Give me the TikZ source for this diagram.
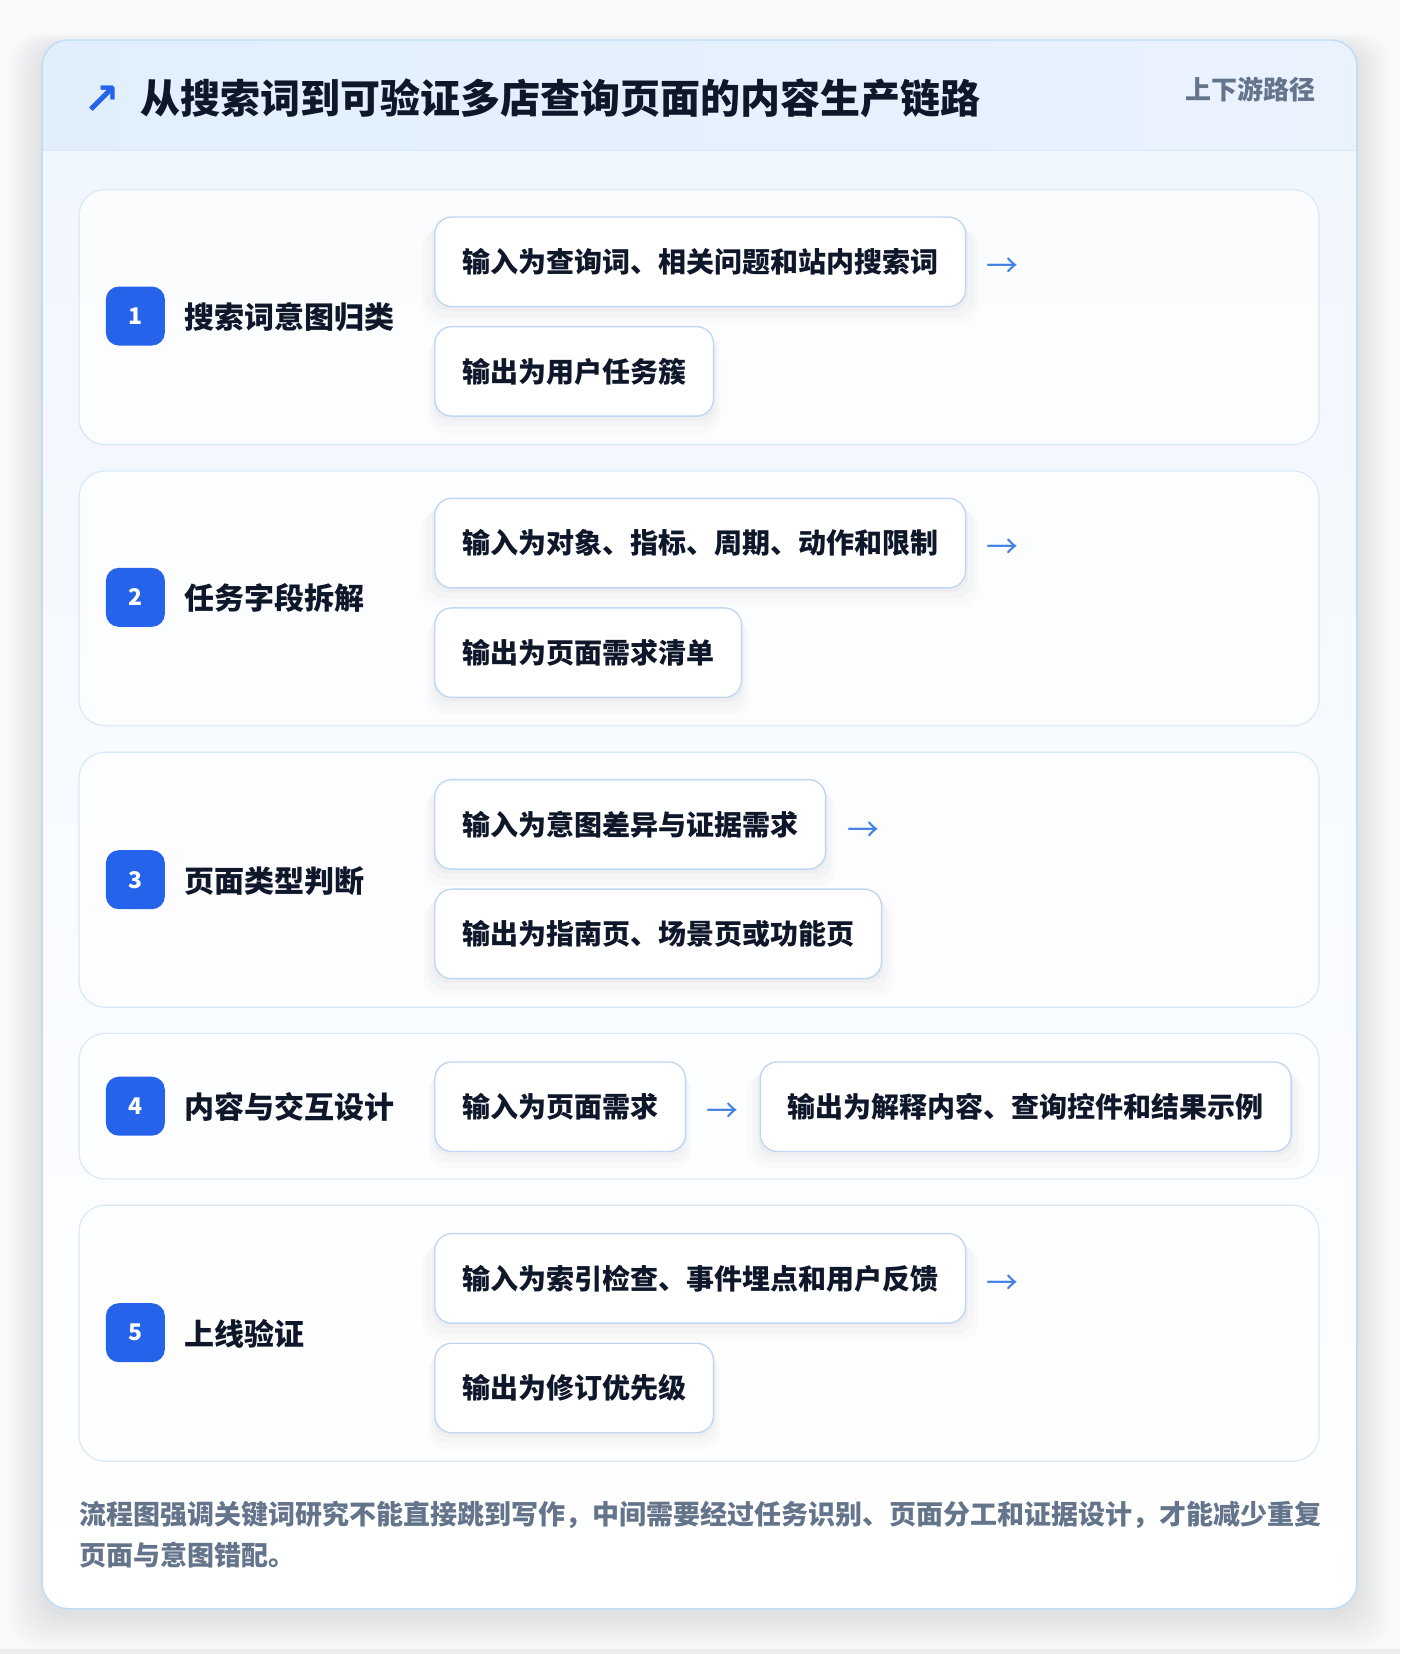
\documentclass[tikz,border=0pt]{standalone}
\usepackage{fontspec}
\setmainfont{Noto Sans CJK SC}
\newfontfamily\symfont{DejaVu Sans}
\usetikzlibrary{shadows,positioning}
\definecolor{ink}{HTML}{0F172A}
\definecolor{muted}{HTML}{64748B}
\definecolor{brand}{HTML}{2563EB}
\definecolor{arrowblue}{HTML}{3F7FE6}
\definecolor{cardline}{HTML}{BCDDF6}
\definecolor{panelline}{HTML}{D9E8FA}
\definecolor{boxline}{HTML}{BFD7F5}
\definecolor{headtop}{HTML}{E1EFFD}
\definecolor{headright}{HTML}{EAF2FE}
\definecolor{bodytop}{HTML}{F0F6FE}
\definecolor{pagebg}{HTML}{F8F9FB}

\begin{document}
\begin{tikzpicture}[x=1.0535pt, y=-1.0535pt,
    panel/.style={draw=panelline, line width=1.2pt, fill=white, fill opacity=0.75, draw opacity=1, rounded corners=26pt},
    badge/.style={fill=brand, text=white, rounded corners=13pt, minimum width=59pt, minimum height=59pt, inner sep=0pt, font=\bfseries\fontsize{23}{25}\selectfont},
    steplabel/.style={anchor=west, inner sep=0pt, text=ink, font=\bfseries\fontsize{30}{34}\selectfont},
    iobox/.style={anchor=west, draw=boxline, line width=1.4pt, fill=white, rounded corners=17pt, minimum height=89.5pt, inner xsep=27.4pt, inner ysep=0pt, text=ink, font=\bfseries\fontsize{28}{32}\selectfont,
      drop shadow={shadow xshift=0pt, shadow yshift=-4pt, shadow scale=1.01, opacity=0.025, fill=black},
      drop shadow={shadow xshift=0pt, shadow yshift=-9pt, shadow scale=1.03, opacity=0.02, fill=black},
      drop shadow={shadow xshift=0pt, shadow yshift=-14pt, shadow scale=1.05, opacity=0.015, fill=black}},
    flow/.style={anchor=west, inner sep=0pt, text=arrowblue, font=\fontsize{32}{34}\selectfont}]
			%%%%% START %%%%%

			\useasboundingbox (0, 0) rectangle (1329, 1570);
			\fill[pagebg] (0, 0) rectangle (1329, 1570);
			\fill[black!7] (0, 1565) rectangle (1329, 1570);

			% soft shadow round the card
			\foreach \s in {2, 6, ..., 30}
				\fill[black, opacity=0.010, rounded corners=30pt] (40-\s, 44-0.4*\s) rectangle (1288+\s, 1533+\s);

			% card body
			\shade[top color=bodytop, bottom color=white, rounded corners=26pt] (40, 38) rectangle (1288, 1527);
			\begin{scope}
				\clip[rounded corners=26pt] (40, 38) rectangle (1288, 1527);
				\shade[left color=headtop, right color=headright] (40, 38) rectangle (1288, 143);
			\end{scope}
			\draw[panelline, line width=1.2pt] (40, 143) -- (1288, 143);
			\draw[cardline, line width=1.4pt, rounded corners=26pt] (40, 38) rectangle (1288, 1527);

			% header
			\node[text=brand, inner sep=0pt, font=\symfont\bfseries\fontsize{44}{46}\selectfont] (mark) at (97, 95) {↗};
			\node[anchor=west, inner sep=0pt, text=ink, font=\bfseries\fontsize{40}{44}\selectfont] (title) at (133, 93) {从搜索词到可验证多店查询页面的内容生产链路};
			\node[anchor=east, inner sep=0pt, text=muted, font=\bfseries\fontsize{26}{28}\selectfont] (route) at (1249, 85) {上下游路径};

			% step 1
			\draw[panel] (75, 180) rectangle (1252, 422);
			\node[badge] (b1) at (128.5, 300) {1};
			\node[steplabel] (s1) at (175, 301) {搜索词意图归类};
			\node[iobox] (in1) at (412, 248.5) {输入为查询词、相关问题和站内搜索词};
			\node[iobox] (out1) at (412, 352.5) {输出为用户任务簇};
			\node[flow] (a1) at (936, 254) {→};

			% step 2
			\draw[panel] (75, 447) rectangle (1252, 689);
			\node[badge] (b2) at (128.5, 567) {2};
			\node[steplabel] (s2) at (175, 568) {任务字段拆解};
			\node[iobox] (in2) at (412, 515.5) {输入为对象、指标、周期、动作和限制};
			\node[iobox] (out2) at (412, 619.5) {输出为页面需求清单};
			\node[flow] (a2) at (936, 521) {→};

			% step 3
			\draw[panel] (75, 714) rectangle (1252, 956);
			\node[badge] (b3) at (128.5, 835) {3};
			\node[steplabel] (s3) at (175, 836) {页面类型判断};
			\node[iobox] (in3) at (412, 782.5) {输入为意图差异与证据需求};
			\node[iobox] (out3) at (412, 886.5) {输出为指南页、场景页或功能页};
			\node[flow] (a3) at (804, 789) {→};

			% step 4
			\draw[panel] (75, 981) rectangle (1252, 1119);
			\node[badge] (b4) at (128.5, 1050) {4};
			\node[steplabel] (s4) at (175, 1051) {内容与交互设计};
			\node[iobox] (in4) at (412, 1050.5) {输入为页面需求};
			\node[flow] (a4) at (670, 1056) {→};
			\node[iobox] (out4) at (721, 1050.5) {输出为解释内容、查询控件和结果示例};

			% step 5
			\draw[panel] (75, 1144) rectangle (1252, 1387);
			\node[badge] (b5) at (128.5, 1265) {5};
			\node[steplabel] (s5) at (175, 1266) {上线验证};
			\node[iobox] (in5) at (412, 1213.5) {输入为索引检查、事件埋点和用户反馈};
			\node[iobox] (out5) at (412, 1317.5) {输出为修订优先级};
			\node[flow] (a5) at (936, 1219) {→};

			% footer note
			\node[anchor=north west, inner sep=0pt, align=left, text=muted, font=\bfseries\fontsize{27}{41}\selectfont] (note) at (75, 1425)
				{流程图强调关键词研究不能直接跳到写作，中间需要经过任务识别、页面分工和证据设计，才能减少重复\\页面与意图错配。};

			%%%%% END %%%%%
\end{tikzpicture}
\end{document}
